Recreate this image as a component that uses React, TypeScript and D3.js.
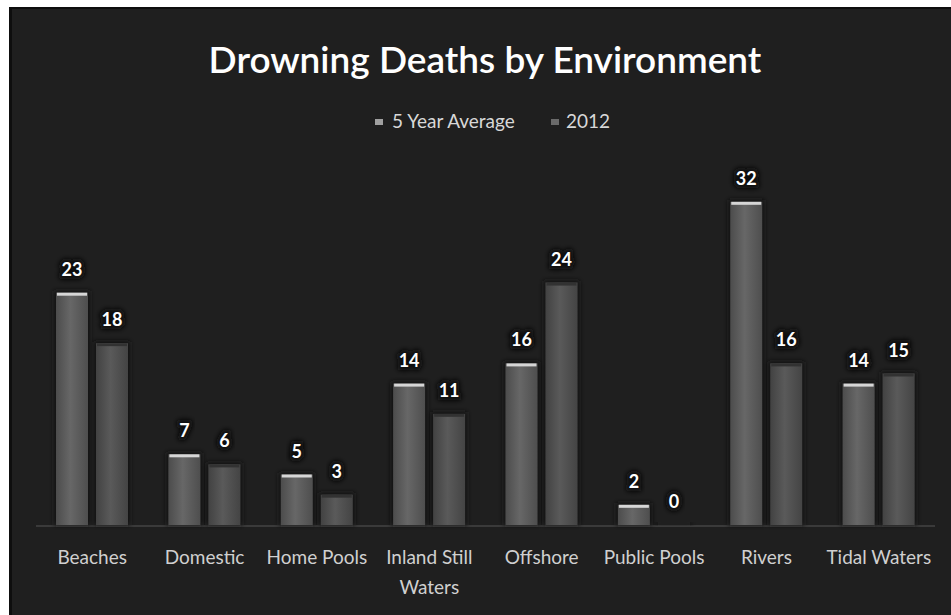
import React from "react";
import * as d3 from "d3";

const categories = ["Beaches", "Domestic", "Home Pools", "Inland Still Waters", "Offshore", "Public Pools", "Rivers", "Tidal Waters"];
const seriesNames = ["5 Year Average", "2012"];
const fiveYearAverage = [23, 7, 5, 14, 16, 2, 32, 14];
const year2012 = [18, 6, 3, 11, 24, 0, 16, 15];
const title = "Drowning Deaths by Environment";

const W = 951;
const H = 615;
const FONT = "Lato, 'Open Sans', sans-serif";

function wrap(label: string): string[] {
  if (label.length <= 14) return [label];
  const i = label.lastIndexOf(" ");
  return [label.slice(0, i), label.slice(i + 1)];
}

export default function App() {
  const x0 = d3.scaleBand<string>().domain(categories).range([36, 935]).paddingInner(0).paddingOuter(0);
  const x1 = d3.scaleBand<string>().domain(seriesNames).range([20, 92]).paddingInner(0.2).paddingOuter(0);
  const y = d3.scaleLinear().domain([0, 35]).range([525, 171.5]);
  const seriesValues = [fiveYearAverage, year2012];

  const bars = categories.flatMap((c, ci) =>
    seriesNames.map((s, si) => ({ c, s, si, v: seriesValues[si][ci] }))
  );

  return (
    <svg width={W} height={H} style={{ position: "absolute", left: 0, top: 0 }} xmlns="http://www.w3.org/2000/svg">
      <defs>
        <linearGradient id="g0" x1="0" x2="1" y1="0" y2="0">
          <stop offset="0" stopColor="#4c4c4c" />
          <stop offset="0.45" stopColor="#676767" />
          <stop offset="1" stopColor="#4e4e4e" />
        </linearGradient>
        <linearGradient id="g1" x1="0" x2="1" y1="0" y2="0">
          <stop offset="0" stopColor="#424242" />
          <stop offset="0.45" stopColor="#5a5a5a" />
          <stop offset="1" stopColor="#444444" />
        </linearGradient>
        <filter id="blur" x="-50%" y="-50%" width="200%" height="200%">
          <feGaussianBlur stdDeviation="2.5" />
        </filter>
        <filter id="soft" x="-50%" y="-50%" width="200%" height="200%">
          <feGaussianBlur stdDeviation="0.6" />
        </filter>
      </defs>
      <rect x={0} y={0} width={W} height={H} fill="#ffffff" />
      <rect x={9} y={7} width={W - 9} height={H - 7} fill="#0e0e0e" />
      <rect x={12} y={9} width={W - 12} height={H - 9} fill="#1f1f1f" />

      <text x={485} y={73} textAnchor="middle" fill="#ffffff" fontFamily={FONT} fontSize={37} fontWeight={600}>
        {title}
      </text>

      {/* legend */}
      <g fontFamily={FONT} fontSize={19} fill="#d8d8d8">
        <rect x={375} y={119} width={8} height={6} fill="#a0a0a0" filter="url(#soft)" />
        <text x={392} y={128}>{seriesNames[0]}</text>
        <rect x={551} y={119} width={8} height={6} fill="#6a6a6a" filter="url(#soft)" />
        <text x={566} y={128}>{seriesNames[1]}</text>
      </g>

      {/* axis line */}
      <line x1={x0.range()[0]} x2={x0.range()[1]} y1={y(0) + 1} y2={y(0) + 1} stroke="#3a3a3a" strokeWidth={2} />

      {/* bars */}
      {bars.map((b) => {
        const bx = (x0(b.c) as number) + (x1(b.s) as number);
        const bw = x1.bandwidth();
        const top = y(b.v);
        const h = y(0) - top;
        return (
          <g key={b.c + b.s}>
            <rect x={bx - 2} y={top - 2} width={bw + 4} height={h + 2} fill="#141414" filter="url(#blur)" />
            <rect x={bx} y={top} width={bw} height={h} fill={b.si === 0 ? "url(#g0)" : "url(#g1)"} />
            {b.v > 0 && (
              <rect x={bx + 1} y={top} width={bw - 2} height={3} fill={b.si === 0 ? "#d6d6d6" : "#333333"} filter="url(#soft)" />
            )}
          </g>
        );
      })}

      {/* value labels */}
      {bars.map((b) => {
        const cx = (x0(b.c) as number) + (x1(b.s) as number) + x1.bandwidth() / 2;
        const ty = y(b.v) - 17;
        return (
          <g key={"l" + b.c + b.s} fontFamily={FONT} fontSize={18} fontWeight={700} textAnchor="middle">
            <text x={cx} y={ty} fill="#0a0a0a" stroke="#0a0a0a" strokeWidth={7} strokeLinejoin="round" filter="url(#blur)">
              {b.v}
            </text>
            <text x={cx} y={ty} fill="#ffffff">{b.v}</text>
          </g>
        );
      })}

      {/* category labels */}
      {categories.map((c) => {
        const cx = (x0(c) as number) + x0.bandwidth() / 2;
        return (
          <text key={c} x={cx} y={564} textAnchor="middle" fontFamily={FONT} fontSize={19} fill="#d0d0d0">
            {wrap(c).map((line, i) => (
              <tspan key={i} x={cx} dy={i === 0 ? 0 : 30}>{line}</tspan>
            ))}
          </text>
        );
      })}
    </svg>
  );
}
